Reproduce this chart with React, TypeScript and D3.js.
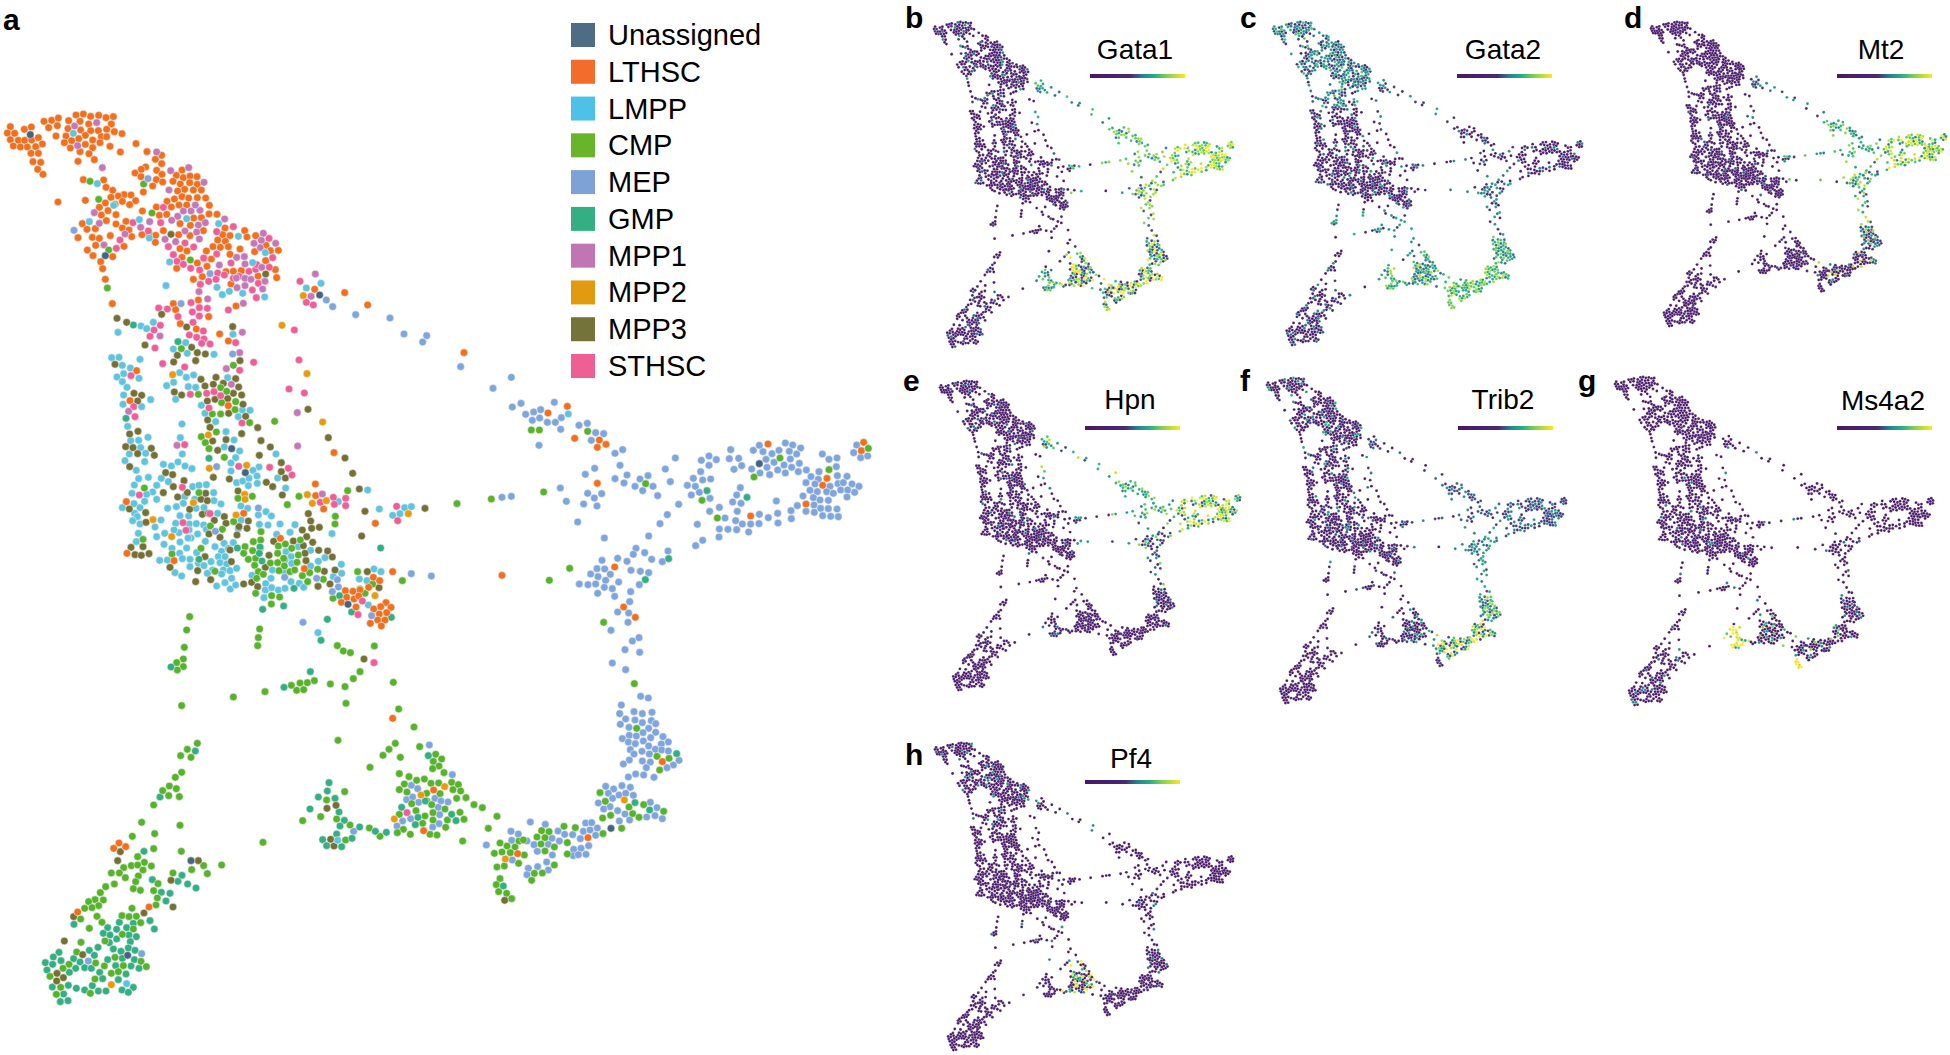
import * as d3 from "d3";

// cell embedding, flat x,y lists per cell type and per area of the map
const lthscUpper = [31,80,22,99,44,100,73,88,94,81,31,119,55,121,74,121,95,120,115,113,127,132,40,138,61,141,82,141,107,140,93,160,115,160,99,185,122,187,113,208,129,223,132,64,155,61,175,54,146,83,172,77,168,108,206,62,228,45,250,42,272,49,296,46,318,53,340,50,240,64,266,72,334,72,204,86,242,90,272,92,295,92,320,88,343,95,366,101,198,108,256,106,236,116,215,122,278,120,304,110,320,110,193,128,256,133,300,128,211,144,278,143,330,139,240,155,267,161,361,156,408,131,441,155,485,166,466,178,485,191,234,184,283,179,437,201,424,208,405,219,423,230,470,211,486,223,469,239,488,246,458,258,430,276,250,239,311,240,318,262,338,271,174,306,256,301,372,284,355,288,333,292,393,285,407,302,367,304,316,309,389,314,345,313,298,322,324,332,304,345,348,344,427,333,319,362,247,371,378,364,348,372,367,384,387,390,261,388,286,386,395,410,426,404,331,407,277,412,298,415,234,413,287,436,372,439,262,450,279,467,338,470,302,485,308,506,316,538,337,611,546,210,529,226,591,230,550,233,570,228,519,244,541,252,569,248,592,253,554,268,533,273,580,270,604,270,523,297,546,290,566,294,592,293,617,294,501,304,469,321,514,321,537,315,560,315,628,316,478,346,500,343,627,342,651,343,604,353,581,354,540,371,571,376,490,392,467,406,447,403,536,404,570,407,610,392,466,427,675,384,734,392,668,404,690,407,653,420,741,411,767,407,676,424,639,440,661,442,685,440,720,447,798,436,811,452,835,451,764,455,619,453,690,463,634,477,612,476,797,482,540,446,561,453,546,472,592,489,621,499,530,505,580,538,607,530,678,515,700,514,724,512,774,528,826,509,830,533,693,552,1034,578,944,568,1103,615,708,618,520,611,527,629,595,600,626,650,541,671,589,687,659,702];
const sthscUpper = [490,322,399,368,482,368,445,393,360,420,349,445,555,429,505,440,581,441,520,464,531,484,550,493,572,505,599,510,611,474,650,462,693,489,653,519,673,525,626,544,601,553,648,538,747,514,767,508,808,502,700,535,770,494,818,473,807,415,700,380,650,395,717,529,775,550,757,570,769,593,685,630,900,544,919,607,940,615,883,690,476,624,502,627,573,608,622,625,577,636,598,623,534,650,579,667,598,648,481,676,462,690,450,709,610,693,568,705,590,712,612,717];
const mpp1Upper = [224,78,290,68,233,137,470,156,307,203,512,212,566,203,612,247,507,270,283,338,298,370,422,382,375,402,312,435,550,333,573,333,600,331,586,315,533,349,515,361,595,375,616,368,555,393,590,396,495,418,527,425,598,417,449,365,674,357,762,430,790,400,784,421,827,430,781,443,710,472,733,470,735,492,785,502,658,495,709,534,735,535,753,538,795,544,711,563,735,557,788,567,946,522,933,589,597,575,623,597,730,610,480,708,727,697];
const lmppUpper = [220,100,292,251,341,316,268,365,418,359,448,414,560,356,656,371,715,409,796,458,509,486,758,488,498,557,651,562,667,584,688,574,728,580,794,591,919,564,963,550,354,697,423,678,440,686,460,667,699,703];
const cmpUpper = [270,244,431,252,296,298,456,339,326,450,571,480,322,564];
const gmpUpper = [400,675];
const mepUpperCells = [444,236,222,391,630,521,543,611,979,600,998,620,1067,644,1170,654,1212,702,1280,707];
const unassignedUpper = [91,104,316,467,959,585];
const mpp3Upper = [513,403,797,522,351,655,380,667,485,643,560,681,698,680];
const mpp2Upper = [910,587,846,676];

const mpp3Mid = [165,15,305,22,262,46,322,38,346,42,251,66,317,62,75,73,450,62,378,112,333,118,437,116,345,138,370,133,400,130,446,141,253,156,275,165,430,160,455,165,132,160,155,166,143,183,352,183,375,178,413,176,459,193,654,208,416,220,467,229,353,240,503,263,360,262,144,274,119,282,455,281,715,293,408,299,513,302,368,303,107,320,129,323,184,325,143,341,193,346,383,331,541,321,508,346,765,354,119,380,574,368,788,400,227,398,248,404,370,412,418,417,574,395,586,414,529,427,548,440,250,440,282,422,292,458,220,458,263,471,347,460,333,478,352,482,444,453,577,465,808,447,825,514,118,507,167,518,299,508,337,523,355,520,403,530,373,541,408,550,655,521,475,543,662,543,168,547,447,560,471,565,665,565,688,562,637,570,815,588,357,582,390,592,441,585,551,604,650,590,610,603,640,617,668,607,123,622,159,620,135,644,154,646,177,641,345,650,420,630,645,640,686,631,713,633,727,651,537,646,424,665,648,662,240,682,323,692,526,682,703,694,735,690,362,719,317,725,461,732,485,727,503,740,684,739,720,732,832,695,867,743,1005,505,822,957];
const lmppMid = [65,53,87,52,150,58,97,76,121,84,269,98,101,101,81,111,147,115,311,105,289,112,97,125,251,127,230,137,295,140,317,142,111,142,413,113,101,165,99,193,182,179,257,178,155,200,334,196,345,220,457,210,480,211,445,230,377,245,276,252,113,259,408,275,174,292,146,301,122,302,271,293,432,300,152,323,403,321,449,333,118,342,167,340,277,342,437,353,105,362,164,365,558,342,264,366,244,378,220,373,285,378,306,386,423,369,139,391,423,393,507,381,489,391,501,408,440,428,458,423,477,415,146,416,175,412,214,415,200,436,235,425,308,440,327,436,349,434,563,414,475,437,502,430,587,444,133,435,188,456,126,460,170,463,371,458,164,484,200,478,132,491,284,470,372,482,97,503,150,503,233,505,259,500,280,490,314,478,342,503,393,492,453,498,473,505,505,525,134,520,213,540,270,527,296,528,318,505,383,520,528,515,544,528,142,530,128,542,150,552,257,550,298,552,319,551,341,555,453,540,508,553,534,555,570,552,615,554,195,561,224,580,267,578,297,570,323,582,445,566,145,580,200,590,252,570,303,594,349,568,560,583,600,577,726,581,139,605,222,613,270,606,294,594,346,604,402,610,430,608,290,624,246,625,320,638,269,640,395,634,415,625,375,620,209,661,232,660,277,656,300,658,325,670,385,650,405,650,363,665,390,668,342,677,410,672,588,635,625,620,662,631,603,650,585,660,605,670,685,664,705,653,754,673,662,678,255,698,275,708,300,680,368,690,400,690,420,692,440,685,395,702,352,700,405,728,425,715,380,738,421,747,437,735,547,690,486,706,543,715,527,731,585,698,603,725,628,730,755,700,808,717,831,722,852,687,873,695,526,750,545,743,565,750,585,745,641,742,522,773,835,795,730,710,745,485,833,450,868,507,908,526,930,521,944,503,964,500,684,878,287,8,250,27,292,40,372,43];
const cmpMid = [274,26,430,76,392,143,410,154,325,163,395,188,437,185,367,222,392,222,435,209,479,248,554,244,379,276,334,290,346,308,357,326,403,352,773,452,327,458,487,469,444,475,627,469,592,494,736,529,735,552,1101,491,163,444,397,568,361,558,431,545,513,575,512,600,490,605,159,598,333,625,465,620,461,640,488,632,511,623,565,618,586,612,605,625,631,600,246,642,475,658,497,655,563,640,581,655,625,645,494,676,541,669,563,668,583,678,621,667,375,694,505,695,567,692,600,695,614,690,659,698,683,688,637,707,653,725,700,718,803,695,500,715,520,703,810,747,825,760,848,732,729,775,937,722,497,760,545,767,569,771,544,792,299,830,290,870,505,893,509,867,503,917,283,922,742,917,760,933,781,938,853,918,280,957,260,968,280,980,262,990,810,995];
const gmpMid = [264,5,108,235,357,355,510,621,442,624,516,663,327,658,508,640,749,767,612,745,518,808,581,798,785,816,712,838,693,901,872,624,904,832,243,981,661,995];
const lthscMid = [415,3,140,92,120,182,415,197,732,338,676,432,677,467,701,507,461,520,109,485,856,550,571,595,252,662,111,640,643,686,908,695,850,712,869,722,836,742,766,752,789,754,810,750,770,772,792,777,806,768,754,787,798,801,888,788,872,800,903,802,851,807,890,818,868,822,885,840,863,840,841,850,874,858,1122,38];
const sthscMid = [195,24,218,71,284,81,123,107,491,67,449,91,627,60,597,147,643,159,301,163,350,160,372,155,392,167,357,204,135,230,131,200,456,249,284,314,446,379,539,382,595,385,606,405,277,442,148,465,360,521,691,487,730,472,733,493,767,475,767,497,920,499,923,542,279,548,288,571,817,783,804,824,852,968,335,10,360,12,437,8];
const mpp1Mid = [449,38,409,86,424,133,116,214,622,218,261,316,623,318,697,462];
const mpp2Mid = [248,104,651,101,698,246,355,285,358,385,470,376,464,463,465,478,310,488,438,525,189,539,652,464,667,490,709,482,955,521,245,590,855,767];
const mepMid = [998,6,428,42,1112,80,380,380,505,504,376,574,584,712,680,715,742,719,745,741,727,755,845,827,639,847,964,701,1024,708];
const unassignedMid = [425,326,466,398,774,793];

const cmpGap = [673,92,652,98,630,99,604,106,620,121,641,119,525,125,430,141,275,167,721,102,765,110,790,86,910,97];
const gmpGap = [582,112];

const mepBranch = [94,22,39,55,97,111,123,100,137,133,161,126,182,119,223,97,157,151,179,144,202,157,226,157,244,143,242,178,297,166,322,160,347,188,371,191,334,211,177,226,405,250,428,239,420,286,344,295,316,313,441,315,405,326,432,339,480,327,504,317,465,349,519,349,488,362,533,377,556,297,571,335,586,264,241,354,323,370,365,371,343,384,259,394,311,402,351,408,293,456,373,504,596,403,562,434,540,461,506,498,468,535,494,548,460,553,413,565,366,571,441,574,515,568,547,575,564,543,351,596,374,597,332,612,354,620,391,613,453,601,481,604,506,608,377,631,416,636,298,642,324,644,347,642,373,652,397,656,478,644,452,665,353,670,404,679,449,695,413,726,446,729,444,757,393,781,477,803,457,813,435,839,479,847,397,879,437,899,482,979,505,984,664,271,687,258,709,269,687,286,662,305,640,325,668,330,692,327,622,346,646,349,658,367,634,375,690,385,718,412,689,424,652,463,668,511,647,527,735,444,718,477,744,478,717,501,770,479,767,452,787,462,806,486,812,462,837,461,772,424,758,396,783,400,770,375,781,353,838,433,865,443,893,430,894,459,933,422,934,446,952,407,889,393,969,378,752,239,748,266,776,265,785,287,762,298,815,297,820,241,838,226,849,245,858,268,876,251,897,241,916,219,938,225,962,234,928,244,950,252,931,267,882,277,861,292,840,309,869,314,893,300,912,285,935,292,958,280,916,309,955,305,979,300,1017,305,993,320,1015,328,978,338,1005,342,990,361,1012,365,1027,252,1047,268,1071,264,1069,290,1072,317,1101,319,1074,341,1090,338,1116,342,1137,349,1050,349,1040,365,1060,370,1082,360,1103,360,1124,367,1101,381,1020,390,1000,383,1045,391,1002,405,978,424,1003,427,1022,415,1045,416,1071,417,1028,437,1052,439,1075,440,1130,225,1121,248,1142,263,1163,258,66,382,94,379];
const lthscBranch = [262,109,204,129,284,205,358,210,378,223,352,232,352,340,404,591,431,711,466,742,66,616,864,222,1041,325,1028,346,978,402,812,438,1151,217,1144,242];
const cmpBranch = [154,180,178,180,323,184,497,341,34,387,191,366,269,595,208,631,371,757,463,941,666,391,712,444,822,321,900,264,1047,299,1165,235];
const gmpBranch = [681,362,801,382,566,566,496,629];
const lmppBranch = [265,132];
const unassignedBranch = [838,281];

const cmpArc = [168,10,326,27,372,81,144,121,316,130,297,148,279,166,331,172,389,140,240,202,437,163,455,177,430,184,447,198,428,206,462,218,328,221,357,230,380,241,403,237,343,252,423,250,446,249,485,247,505,254,328,269,351,276,489,269,512,273,410,280,450,281,500,295,528,293,552,314,577,323,411,303,365,311,425,314,465,327,378,332,328,343,510,337,405,348,429,338,621,349,522,358,472,360,429,360,398,370,595,385,467,382,340,388,322,398,361,403,420,403,441,405,518,423,238,384,270,409,38,362,92,350,110,300,164,275,140,357,180,375,167,420,630,429,651,438,675,441,687,423,700,420,613,460,636,456,661,458,703,465,621,501,643,498,686,490,630,536,619,554,626,575,650,580,665,596,741,411,755,392,777,395,765,413,753,432,793,441,765,453,832,428,832,462,822,379,856,383,793,495,757,519,733,520,725,541,939,401,995,385,938,354,962,346,1028,341,1047,352,1017,321,946,304,930,278,1061,314,1121,334,1040,85,1101,169,1137,175,1109,210];
const mepArc = [418,135,487,224,364,256,383,266,350,299,368,291,386,307,435,295,453,303,474,306,445,322,449,344,362,356,338,363,321,378,447,371,428,381,191,394,663,394,685,402,665,421,721,366,766,373,711,423,732,434,589,435,742,454,667,480,787,465,715,505,711,524,743,500,770,486,775,510,786,415,775,433,804,393,824,403,848,404,808,423,880,394,887,369,905,368,900,390,922,384,871,416,917,406,896,437,851,448,873,445,850,467,865,464,888,463,947,259,971,267,996,257,1021,262,955,280,968,295,987,285,1030,286,1007,280,925,309,960,320,983,332,941,327,1005,342,1019,360,988,363,1081,307,1101,323,1070,351,1095,347,1117,356,994,15,989,41,1032,35,1057,41,1086,37,1007,57,1035,60,1057,68,1084,62,991,73,1017,82,1076,85,1097,71,1059,98,1097,97,1018,106,1039,108,997,116,1015,126,1036,131,1060,123,1082,113,1119,110,1135,126,1114,132,1076,138,1096,148,1115,150,1021,149,1032,162,1056,154,1078,162,1135,153,1018,180,1000,192,1057,183,1081,186,1069,203,1167,181,1150,195,1131,203,1015,231,1037,222,1061,225,1092,232];
const gmpArc = [117,248,112,273,85,291,135,295,60,327,147,336,163,361,150,378,209,381,256,394,289,397,98,419,186,415,140,402,110,437,155,440,415,167,335,322,384,352,376,374,406,303,485,343,498,362,640,558,1035,308,1079,330,1160,161];
const mpp3Arc = [111,325,138,316,122,418,132,438,644,601];
const lmppArc = [143,421];
const mpp2Arc = [393,285,464,260,313,357,646,477,1003,300];
const lthscArc = [308,55,431,270,401,392,683,461,894,413,1117,185];
const sthscArc = [351,338];
const unassignedArc = [963,385];

const cmpTailCells = [532,70,502,88,482,107,513,112,485,157,466,172,448,198,469,206,428,212,446,227,478,230,401,255,365,307,480,316,337,349,404,341,401,386,484,394,353,410,373,427,334,437,353,435,394,438,311,443,369,450,274,459,298,459,355,468,316,473,347,485,283,492,257,500,241,518,340,506,361,511,401,512,414,491,459,459,515,449,551,437,562,461,605,435,412,534,408,555,225,539,250,540,206,545,236,557,216,563,194,565,336,565,182,597,231,589,306,587,327,590,349,589,246,607,362,608,208,625,340,627,307,643,183,667,255,663,170,696,285,712,363,724,227,729,147,733,129,745,253,738,310,737,379,740,90,769,274,760,295,755,225,777,122,802,109,823,211,820,729,367];
const gmpTail = [526,93,420,231,372,394,397,479,486,466,474,484,503,492,528,504,424,517,450,520,438,543,162,613,298,607,340,610,390,602,403,627,263,623,290,628,320,623,250,640,270,645,327,645,349,650,290,657,268,668,331,665,280,687,325,684,303,694,345,691,208,691,234,682,117,697,100,711,123,722,161,716,180,726,223,706,76,728,98,733,81,750,167,745,148,757,194,743,214,745,263,719,307,715,343,719,287,737,333,738,357,745,239,757,248,776,318,762,295,779,145,796,97,801,169,805,217,797,194,810,235,813,258,813,306,810,340,802,325,817,131,822,121,845,144,842];
const mpp3Tail = [301,395,293,422,535,422,453,481,459,561,372,579,161,590,133,663,188,704,111,760,130,773,110,783];
const lthscTail = [297,369,317,380,281,385,387,561,173,576];
const mepTail = [205,723,365,701];
const unassignedTail = [513,422,323,706];
const mpp2Tail = [274,794];
const lmppTail = [320,791];

const cellTypes = ["Unassigned", "LTHSC", "LMPP", "CMP", "MEP", "GMP", "MPP1", "MPP2", "MPP3", "STHSC"];
const swatchColors = ["#4f6c85", "#f36c2c", "#4fc0e6", "#6ab42b", "#7ea1d6", "#33af83", "#bf76b2", "#e29a10", "#747339", "#ee5f94"];
const dotColors = ["#46637f", "#f0701f", "#62c3dd", "#58b22d", "#7fa5dc", "#35ae84", "#c479b6", "#e89b12", "#757136", "#ee5f98"];

// [list, cell type, origin of that area]
const cellLists: [number[], string, number, number][] = [
  [lthscUpper, "LTHSC", 0, 300], [sthscUpper, "STHSC", 0, 300], [mpp1Upper, "MPP1", 0, 300], [lmppUpper, "LMPP", 0, 300],
  [cmpUpper, "CMP", 0, 300], [gmpUpper, "GMP", 0, 300], [mepUpperCells, "MEP", 0, 300], [unassignedUpper, "Unassigned", 0, 300],
  [mpp3Upper, "MPP3", 0, 300], [mpp2Upper, "MPP2", 0, 300],
  [lmppMid, "LMPP", 270, 1020], [mpp3Mid, "MPP3", 270, 1020], [cmpMid, "CMP", 270, 1020], [gmpMid, "GMP", 270, 1020],
  [lthscMid, "LTHSC", 270, 1020], [sthscMid, "STHSC", 270, 1020], [mpp1Mid, "MPP1", 270, 1020], [mpp2Mid, "MPP2", 270, 1020],
  [mepMid, "MEP", 270, 1020], [unassignedMid, "Unassigned", 270, 1020],
  [cmpGap, "CMP", 270, 1950], [gmpGap, "GMP", 270, 1950],
  [mepBranch, "MEP", 1440, 1110], [lthscBranch, "LTHSC", 1440, 1110], [cmpBranch, "CMP", 1440, 1110], [gmpBranch, "GMP", 1440, 1110],
  [lmppBranch, "LMPP", 1440, 1110], [unassignedBranch, "Unassigned", 1440, 1110],
  [mepArc, "MEP", 870, 2100], [cmpArc, "CMP", 870, 2100], [gmpArc, "GMP", 870, 2100], [mpp3Arc, "MPP3", 870, 2100],
  [lmppArc, "LMPP", 870, 2100], [mpp2Arc, "MPP2", 870, 2100], [lthscArc, "LTHSC", 870, 2100], [sthscArc, "STHSC", 870, 2100],
  [unassignedArc, "Unassigned", 870, 2100],
  [gmpTail, "GMP", 60, 2160], [cmpTailCells, "CMP", 60, 2160], [mpp3Tail, "MPP3", 60, 2160], [lthscTail, "LTHSC", 60, 2160],
  [mepTail, "MEP", 60, 2160], [unassignedTail, "Unassigned", 60, 2160], [mpp2Tail, "MPP2", 60, 2160], [lmppTail, "LMPP", 60, 2160],
];

const cells = cellLists.flatMap(([list, type, ox, oy]) =>
  d3.range(0, list.length, 2).map((i) => ({ x: list[i] + ox, y: list[i + 1] + oy, type }))
);

// areas of the map, first hit wins; [x0, x1, y0, y1]
const zoneBounds = [
  [1470, 1560, 2620, 3100], // arcTail
  [0, 900, 0, 1050], // hsc
  [870, 1540, 0, 1190], // diag
  [2040, 9999, 0, 1800], // mepFar
  [1480, 2040, 1130, 1520], // mepUpper
  [1700, 2040, 1520, 2110], // trunk
  [1190, 1700, 1200, 1900], // bridge
  [0, 1190, 1050, 1870], // lmpp
  [0, 1700, 1870, 2110], // link
  [0, 870, 2100, 3100], // cmpTail
  [870, 1120, 2350, 3100], // gmpLoop
  [1120, 1450, 2230, 3100], // cmpBlob
  [1450, 1950, 2300, 3100], // arcLow
  [1450, 2400, 2100, 3100], // arcHigh
  [870, 1450, 2100, 2350], // thin cells above the loops, read like link
];
const levelRow = [0, 1, 2, 3, 4, 5, 6, 7, 8, 9, 10, 11, 12, 13, 8];

// expression seen per area, same order as zoneBounds, handed out along the cells of the area
const gata1Levels = [
  [.9, .3, .85, .7], [0, 0, .05, 0, 0, .12, 0, 0, .35, 0, 0, 0, .15, 0, 0, 0, 0, .5, 0, 0], [.4, .6, .3, .7, .5], [.9, .7, .95, 1, .75, .85, .5, .65],
  [.75, .6, .8, .85, .4, .7], [.8, .3, .9, .15, .7, .85], [.05, .7, .1, .6, 0, .8, .55], [0, 0, .03, 0, 0, 0, .1, 0, 0, 0, 0, 0, .3, 0, 0, 0],
  [0, 0, .1, 0, .05, 0], [0, 0, .05, 0, 0, .3, 0, 0, 0], [.6, .8, .4, .75, .55, .3], [.85, .1, 1, .7, .3, .95, .05, .6, .2],
  [1, .8, .2, .65, .05, .85, 1, .3, .7, .1], [.85, .1, .7, 1, .3, .6, .15],
];
const gata2Levels = [
  [.8, .75, .7], [.5, .3, .6, .05, .45, .15, .7, .35, .05, .55, 0, .3], [.1, .45, .05, .5, .1], [0, .05, 0, .35, 0, 0, 0, 0],
  [0, .05, .4, 0, .1, 0], [.05, .45, .1, .55, .3, .5, 0], [.05, .3, 0, .4, 0], [.05, 0, .35, 0, 0, 0, .1, 0, .2, 0, 0, 0, .5, 0, 0, 0, 0, 0, 0, 0],
  [.45, .5, .1, .55, .05, .6], [0, .05, .4, 0, 0, .3, 0, 0, 0], [.6, .8, .5, .7, .35, .85], [.7, .4, .85, .3, .6, .5, .25],
  [.75, .6, .85, .5, .65, .9, .55], [.55, .7, .3, .6, .8, .4],
];
const mt2Levels = [
  [0, .05, 0], [0, 0, 0, .03, 0, 0, 0], [.4, .1, .5, .05], [.9, .7, 1, .6, .4, .95, .75],
  [.6, .7, .8, .5, .35], [.85, .55, .9, .3, .7, .6, .15], [.02, .7, .5, .05, .75], [0, 0, .04, 0, 0, 0, 0, .25, 0, 0, 0, 0, 0, 0],
  [0, 0, .03], [0, 0, .04, 0], [0, .03, 0], [0, .02, 0, .1, 0], [0, .05, 0, .4, 0, 0, .9, 0, 0, 0], [.2, .5, .1, .3, .85, .05],
];
const hpnLevels = [
  [0, 0, .02], [0, 0, 0, .03, 0, 0, 0, 0, 0, .3, 0, 0, 0], [.5, .7, .15, .6, .9], [.95, .7, 1, .4, .85, .6, .2, .9],
  [.6, .85, .5, .7, .4, .6], [.1, .5, .05, .8, 0, .3, .1], [.05, .5, .55, .1], [0, 0, .03, 0, 0, 0, 0, 0, 0, 0, .35, 0, 0, 0, 0, 0],
  [0, 0, .03], [0, 0, 0, .03, 0], [0, .05, .35, 0, 0, 0], [0, 0, .03, 0], [0, 0, .05, 0], [0, .02, .3, 0, 0],
];
const trib2Levels = [
  [.1, .02, .05], [0, .05, 0, 0, 0, .5, 0, 0, 0, 0, 0, .6, 0, 0, 0, .2, 0, 0], [.05, .3, 0, .1], [.1, .4, .05, .15, .5, .1],
  [.3, .05, .45, .1, .2], [.5, .4, .15, .6, .3, .55], [.1, .4, 0], [0, 0, .3, 0, 0, 0, 0, 0, 0, .5, 0, 0, 0, 0, 0, 0, 0, .2, 0, 0, 0, 0, 0],
  [0, 0, .03, 0, .2, 0], [0, 0, .03, 0], [0, .05, .3, 0, 0], [0, .4, 0, .1, 0, .6, .05, 0, 0, 0],
  [.85, .5, 1, .2, .7, .95, .1, .45], [.7, .35, .8, .15, .6, .5, .3, .85],
];
const ms4a2Levels = [
  [1, .95, 1, .9, 1], [0], [0, 0, 0, 0, 0, .4, 0, 0], [0], [0], [0, 0, 0, 0, 0, 0, 0, 0, 0, 0, .3, 0, 0, 0], [0, 0, .45, 0, 0, 0, 0, 0, 0, 0],
  [0, 0, 0, 0, 0, 0, 0, 0, 0, 0, 0, 0, 0, 0, 0, .4, 0, 0, 0, 0, 0, 0, 0, 0, 0, 0, 0, 0, 0, 0], [0, 0, 0, 0, 0, 0, .35, 0, 0, 0, 0, 0],
  [0, 0, 0, 0, 0, 0, .45, 0, 0, 0, 0, 0, 0, 0, 0, 0, 0, .3, 0, 0], [1, .95, 1, .7, 1, .9, .95, .55, 1],
  [0, 0, .6, 0, 0, 0, .45, 0, 0, 0, .8, 0, 0, 0], [0, 0, 0, .5, 0, 0, 0, 0, .8, 0, 0, 0, 0, .4, 0, 0], [0, 0, 0, 0, .45, 0, 0, 0, 0, .35, 0],
];
const pf4Levels = [
  [0, 0, 0], [0, 0, 0, 0, 0, .4, 0, 0, 0, 0, 0, 0, 0, .5, 0, 0, 0, 0, 0, 0], [0, 0, 0, .4, 0], [0], [0], [0, 0, 0, 0, 0, .4, 0, 0, 0, 0, 0, 0], [0],
  [0, 0, 0, 0, 0, 0, 0, 0, .05, 0, 0, 0, 0, 0, 0, 0], [0, 0, 0, .4, 0, 0, 0], [0, 0, 0, .03, 0], [0, 0, .05, 0],
  [1, .05, .6, .9, .02, .5, 0, .05, 1, .2, 0, .02], [0, 0, .05, 0, 0, .02], [0, 0, .35, 0, 0, 0],
];

const legendRows = d3.scalePoint(cellTypes, [35, 366]);
const mapX = d3.scaleLinear([0, 2700], [0, 900]);
const mapY = d3.scaleLinear([0, 3165], [0, 1055]);
const expressionColor = d3.scaleSequential(d3.interpolateViridis).domain([-0.07, 1]);
const embeddingX = [13, 2605];
const embeddingY = [342, 3005];

const panels = [
  { letter: "b", letterX: 905, letterY: 28, gene: "Gata1", levels: gata1Levels, box: [933, 1233, 22, 347], titleX: 1135, titleY: 59, barX: 1090, barY: 74 },
  { letter: "c", letterX: 1240, letterY: 28, gene: "Gata2", levels: gata2Levels, box: [1272, 1582, 22, 345], titleX: 1503, titleY: 59, barX: 1457, barY: 74 },
  { letter: "d", letterX: 1624, letterY: 28, gene: "Mt2", levels: mt2Levels, box: [1650, 1946, 22, 326], titleX: 1881, titleY: 59, barX: 1837, barY: 74 },
  { letter: "e", letterX: 903, letterY: 391, gene: "Hpn", levels: hpnLevels, box: [939, 1240, 381, 690], titleX: 1130, titleY: 409, barX: 1085, barY: 426 },
  { letter: "f", letterX: 1240, letterY: 391, gene: "Trib2", levels: trib2Levels, box: [1266, 1566, 378, 703], titleX: 1503, titleY: 409, barX: 1458, barY: 426 },
  { letter: "g", letterX: 1578, letterY: 391, gene: "Ms4a2", levels: ms4a2Levels, box: [1614, 1933, 377, 705], titleX: 1883, titleY: 410, barX: 1837, barY: 426 },
  { letter: "h", letterX: 905, letterY: 765, gene: "Pf4", levels: pf4Levels, box: [934, 1233, 743, 1050], titleX: 1131, titleY: 768, barX: 1085, barY: 780 },
];

const sans = "'Liberation Sans', Arial, sans-serif";

function zoneOf(c: { x: number; y: number }) {
  return zoneBounds.findIndex(([x0, x1, y0, y1]) => c.x >= x0 && c.x < x1 && c.y >= y0 && c.y < y1);
}

function expressionPoints(levels: number[][]) {
  const seen = zoneBounds.map(() => 0);
  return cells.map((c) => {
    const z = zoneOf(c);
    if (z < 0) return { ...c, v: 0 };
    const list = levels[levelRow[z]];
    return { ...c, v: list[seen[z]++ % list.length] };
  });
}

function GenePanel({ panel }) {
  const x = d3.scaleLinear(embeddingX, panel.box.slice(0, 2));
  const y = d3.scaleLinear(embeddingY, panel.box.slice(2, 4));
  const points = expressionPoints(panel.levels);
  return (
    <g>
      <text x={panel.letterX} y={panel.letterY} fontFamily={sans} fontWeight="700" fontSize={30}>
        {panel.letter}
      </text>
      <text x={panel.titleX} y={panel.titleY} textAnchor="middle" fontFamily={sans} fontSize={28}>
        {panel.gene}
      </text>
      <rect x={panel.barX} y={panel.barY} width={95} height={4} fill="url(#viridisBar)" />
      {points.map((d, i) => (
        <circle key={i} cx={x(d.x)} cy={y(d.y)} r={1.45} fill={expressionColor(d.v)} stroke="#fff" strokeOpacity={0.45} strokeWidth={0.4} />
      ))}
    </g>
  );
}

export default function App() {
  return (
    <svg width={1950} height={1055} style={{ position: "absolute", left: 0, top: 0, background: "#fff" }}>
      <defs>
        <linearGradient id="viridisBar">
          {[0, 0.42, 0.55, 0.68, 0.82, 1].map((t, i) => (
            <stop key={t} offset={t} stopColor={expressionColor([0, 0.05, 0.4, 0.6, 0.8, 1][i])} />
          ))}
        </linearGradient>
      </defs>
      <text x={3} y={30} fontFamily={sans} fontWeight="700" fontSize={30}>
        a
      </text>
      <g>
        {cells.map((d, i) => (
          <circle
            key={i}
            cx={mapX(d.x)}
            cy={mapY(d.y)}
            r={3.8}
            fill={dotColors[cellTypes.indexOf(d.type)]}
            stroke="#fff"
            strokeOpacity={0.6}
            strokeWidth={0.8}
          />
        ))}
      </g>
      <g fontFamily={sans} fontSize={29}>
        {cellTypes.map((t, i) => (
          <g key={t}>
            <rect x={571} y={legendRows(t) - 12} width={24} height={24} fill={swatchColors[i]} />
            <text x={608} y={legendRows(t) + 10}>
              {t}
            </text>
          </g>
        ))}
      </g>
      {panels.map((p) => (
        <GenePanel key={p.gene} panel={p} />
      ))}
    </svg>
  );
}
